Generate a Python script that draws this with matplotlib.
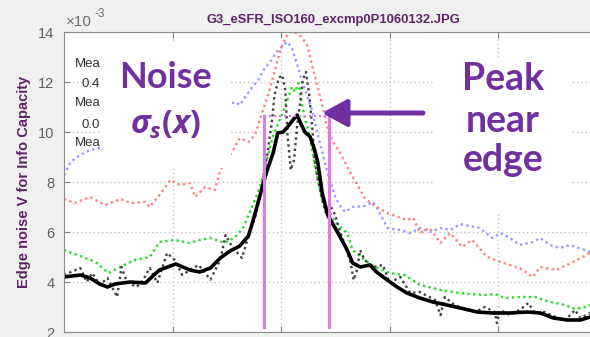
import matplotlib
matplotlib.use('Agg')
import matplotlib.pyplot as plt
from matplotlib.patches import Rectangle, FancyArrowPatch

plt.rcParams['font.family'] = ['Liberation Sans', 'DejaVu Sans']
plt.rcParams['mathtext.fontset'] = 'custom'
plt.rcParams['mathtext.it'] = 'Open Sans:italic:bold'
plt.rcParams['mathtext.rm'] = 'Open Sans:bold'

# values are in units of 1e-3 (axis shows x10^-3)
smooth_x = [0.00, 0.15, 0.24, 0.33, 0.40, 0.47, 0.61, 0.75, 0.88, 1.03, 1.16, 1.25, 1.35, 1.44,
            1.53, 1.62, 1.70, 1.76, 1.82, 1.87, 1.93, 1.97, 2.02, 2.06, 2.11, 2.15, 2.18, 2.22,
            2.27, 2.31, 2.34, 2.38, 2.43, 2.52, 2.61, 2.66, 2.73, 2.82, 2.88, 2.98, 3.07, 3.16,
            3.28, 3.40, 3.53, 3.65, 3.81, 3.95, 4.11, 4.27, 4.39, 4.51, 4.64, 4.76, 4.85]
smooth_y = [4.20, 4.28, 4.16, 3.92, 3.80, 3.92, 4.00, 3.96, 4.48, 4.72, 4.48, 4.40, 4.56, 4.96,
            5.24, 5.44, 5.84, 6.72, 7.68, 8.44, 9.20, 9.96, 10.00, 10.20, 10.48, 10.68, 10.36, 10.00,
            9.80, 9.28, 8.76, 7.56, 6.68, 6.00, 5.28, 4.76, 4.60, 4.68, 4.40, 4.08, 3.80, 3.56,
            3.36, 3.20, 3.08, 2.96, 2.80, 2.76, 2.76, 2.80, 2.76, 2.56, 2.48, 2.48, 2.60]

raw_x = [0.00, 0.15, 0.21, 0.26, 0.33, 0.40, 0.49, 0.53, 0.58, 0.67, 0.73, 0.79, 0.86, 0.95,
         1.02, 1.09, 1.16, 1.24, 1.35, 1.44, 1.49, 1.55, 1.64, 1.71, 1.76, 1.81, 1.85, 1.88,
         1.92, 1.94, 1.98, 2.01, 2.04, 2.06, 2.09, 2.12, 2.15, 2.18, 2.20, 2.23, 2.26, 2.29,
         2.31, 2.34, 2.38, 2.41, 2.45, 2.50, 2.54, 2.59, 2.64, 2.67, 2.70, 2.73, 2.77, 2.85,
         2.94, 3.00, 3.10, 3.19, 3.28, 3.42, 3.47, 3.51, 3.60, 3.65, 3.79, 3.88, 3.97, 3.99,
         4.02, 4.11, 4.20, 4.28, 4.34, 4.43, 4.53, 4.62, 4.71, 4.76, 4.85]
raw_y = [4.28, 4.56, 4.00, 4.36, 3.88, 4.16, 3.40, 4.60, 4.00, 3.80, 4.08, 4.56, 3.96, 5.16,
         4.88, 4.28, 4.48, 4.68, 4.10, 4.88, 5.88, 5.40, 4.96, 5.96, 6.56, 7.48, 8.48, 9.28,
         10.56, 11.48, 12.16, 12.28, 11.68, 9.88, 8.48, 8.88, 10.28, 11.28, 12.08, 12.40, 11.48, 10.08,
         8.88, 8.08, 7.28, 6.80, 7.08, 6.68, 6.08, 5.48, 4.80, 4.08, 4.48, 5.28, 4.88, 4.60,
         4.68, 3.96, 4.20, 3.56, 3.60, 3.28, 2.68, 3.40, 3.08, 3.00, 2.80, 3.00, 2.80, 2.36,
         2.88, 2.68, 2.88, 3.16, 2.76, 2.80, 2.60, 2.48, 2.88, 2.56, 2.76]

green_x = [0.00, 0.15, 0.29, 0.41, 0.52, 0.65, 0.79, 0.88, 1.02, 1.16, 1.25, 1.35, 1.48, 1.58,
           1.65, 1.71, 1.76, 1.82, 1.88, 1.93, 2.02, 2.10, 2.13, 2.16, 2.19, 2.22, 2.27, 2.31,
           2.38, 2.50, 2.61, 2.66, 2.77, 2.87, 3.00, 3.14, 3.28, 3.47, 3.65, 3.74, 3.88, 3.97,
           4.06, 4.20, 4.34, 4.48, 4.62, 4.71, 4.80, 4.85]
green_y = [5.28, 5.04, 4.80, 4.36, 4.60, 4.88, 5.00, 5.60, 5.68, 5.56, 5.68, 5.76, 5.56, 5.80,
           6.16, 6.76, 7.28, 8.00, 9.08, 9.88, 10.80, 11.80, 11.60, 11.96, 11.20, 10.56, 9.76, 8.68,
           7.28, 6.40, 5.96, 5.28, 4.88, 4.60, 4.36, 4.28, 3.88, 3.68, 3.56, 3.52, 3.48, 3.52,
           3.36, 3.40, 3.40, 3.20, 3.08, 2.92, 3.00, 3.08]

red_x = [0.00, 0.10, 0.24, 0.38, 0.52, 0.61, 0.75, 0.79, 0.88, 0.98, 1.07, 1.16, 1.21, 1.30,
         1.39, 1.44, 1.56, 1.62, 1.70, 1.76, 1.81, 1.85, 1.90, 1.94, 1.99, 2.04, 2.08, 2.15,
         2.19, 2.24, 2.31, 2.38, 2.42, 2.47, 2.54, 2.64, 2.73, 2.77, 2.85, 2.98, 3.03, 3.16,
         3.22, 3.28, 3.37, 3.47, 3.56, 3.67, 3.76, 3.90, 4.05, 4.20, 4.32, 4.39, 4.54, 4.69, 4.85]
red_y = [7.32, 7.16, 7.40, 7.08, 7.32, 7.16, 7.20, 7.00, 7.48, 8.08, 7.88, 7.96, 7.40, 7.80,
         7.68, 8.48, 9.28, 9.76, 9.60, 9.88, 10.56, 11.08, 11.76, 12.40, 13.20, 13.76, 14.00, 13.96,
         13.80, 13.48, 12.28, 11.08, 10.28, 9.68, 9.20, 8.36, 7.68, 7.36, 7.08, 6.76, 6.68, 6.48,
         6.56, 5.96, 6.16, 5.56, 5.96, 5.40, 5.68, 5.00, 4.76, 4.56, 4.20, 4.60, 4.48, 4.80, 5.16]

blue_x = [0.00, 0.06, 0.15, 0.24, 0.33, 1.58, 1.62, 1.67, 1.73, 1.79, 1.85, 1.90, 1.96, 2.02,
          2.06, 2.10, 2.15, 2.19, 2.24, 2.29, 2.34, 2.38, 2.41, 2.45, 2.50, 2.54, 2.59, 2.66,
          2.77, 2.85, 2.91, 2.98, 3.10, 3.19, 3.28, 3.37, 3.47, 3.56, 3.65, 3.74, 3.83, 3.95,
          4.02, 4.11, 4.20, 4.32, 4.39, 4.48, 4.57, 4.66, 4.80, 4.85]
blue_y = [8.28, 8.80, 9.08, 9.28, 9.36, 11.20, 11.08, 11.40, 11.76, 12.08, 12.56, 12.80, 13.20, 13.48,
          13.60, 13.36, 12.68, 12.08, 11.48, 10.80, 9.88, 9.20, 8.68, 8.08, 7.40, 7.08, 6.80, 7.00,
          7.04, 7.20, 6.76, 6.16, 6.08, 5.96, 6.16, 6.00, 6.16, 6.08, 6.32, 6.24, 6.16, 5.76,
          5.96, 5.76, 5.48, 5.60, 5.76, 5.48, 5.36, 5.48, 5.28, 5.20]

edge_x = [1.84, 2.44]
edge_level = 10.65
edge_bottom = 2.2

title = 'G3_eSFR_ISO160_excmp0P1060132.JPG'
ylab = 'Edge noise V for Info Capacity'
purple = '#7030a0'
dark_purple = '#5e2468'

fig = plt.figure(figsize=(5.9, 3.37), dpi=100, facecolor='#f0f0f0')
ax = fig.add_axes([64/590, 5/337, 542.5/590, 300/337])

dots = (0, (1, 1.4))
ax.plot(blue_x, blue_y, color='#9a9aff', lw=1.7, ls=dots)
ax.plot(red_x, red_y, color='#ff8080', lw=1.7, ls=dots)
ax.plot(green_x, green_y, color='#22dd22', lw=1.7, ls=dots)
ax.plot(raw_x, raw_y, color='#404040', lw=1.7, ls=dots)
ax.plot(smooth_x, smooth_y, color='black', lw=2.6)
for xe in edge_x:
    ax.plot([xe, xe], [edge_bottom, edge_level], color='#e07ae6', lw=2.2)
ax.plot(edge_x, [edge_level, edge_level], color='#e07ae6', lw=1.5, ls=dots)

ax.set_xlim(0, 5)
ax.set_ylim(2, 14)
ax.set_xticks([1, 2, 3, 4])
ax.set_yticks([2, 4, 6, 8, 10, 12, 14])
ax.set_xticklabels([])
ax.grid(True, color='#c4c4c4', ls=(0, (1, 2)), lw=1)
ax.tick_params(direction='in', length=4, colors='#808080', labelcolor='#606060',
               labelsize=10.5, top=True, right=True, pad=7)
for s in ax.spines.values():
    s.set_color('#8c8c8c')

# legend text partly hidden behind the label box
for txt, yy in [('Mean', 64), ('0.4', 84), ('Mean', 103), ('0.0', 125), ('Mean', 143)]:
    xx = 75 if txt == 'Mean' else 82
    ax.text(xx/590, 1 - yy/337, txt, transform=fig.transFigure, fontsize=9.5,
            color='#303030', va='center', ha='left', clip_on=False)

fig.text(333/590, 1 - 20/337, title, ha='center', va='center', fontsize=9.4,
         fontweight='bold', color=dark_purple)
fig.text(24/590, 1 - 182/337, ylab, rotation=90, ha='center', va='center',
         fontsize=10.5, fontweight='bold', color=dark_purple)
fig.text(66/590, 1 - 22/337, '\u00d710', ha='left', va='center', fontsize=11, color='#707070')
fig.text(95/590, 1 - 14/337, '-3', ha='left', va='center', fontsize=8.5, color='#707070')

# white label boxes
fig.add_artist(Rectangle((100/590, 1 - 168/337), 131/590, 126/337,
                         transform=fig.transFigure, facecolor='white', edgecolor='none', zorder=5))
fig.add_artist(Rectangle((435/590, 1 - 212/337), 135/590, 155/337,
                         transform=fig.transFigure, facecolor='white', edgecolor='none', zorder=5))

fig.text(165/590, 1 - 88/337, 'Noise', ha='center', va='baseline', fontsize=26,
         fontweight='bold', family='Lato', color=purple, zorder=6)
fig.text(165/590, 1 - 125/337, r'$\sigma_s(x)$', ha='center', va='center', fontsize=23,
         color=purple, zorder=6)
for word, base in [('Peak', 90), ('near', 132), ('edge', 171)]:
    fig.text(503/590, 1 - base/337, word, ha='center', va='baseline', fontsize=27,
             fontweight='bold', family='Lato', color=purple, zorder=6)

fig.add_artist(FancyArrowPatch((423/590, 1 - 113/337), (322/590, 1 - 113/337),
                               transform=fig.transFigure,
                               arrowstyle='-|>,head_length=0.6,head_width=0.33',
                               mutation_scale=25, lw=3.6, color=purple,
                               shrinkA=0, shrinkB=0, zorder=6))

fig.savefig('out.png', dpi=100, facecolor=fig.get_facecolor())
